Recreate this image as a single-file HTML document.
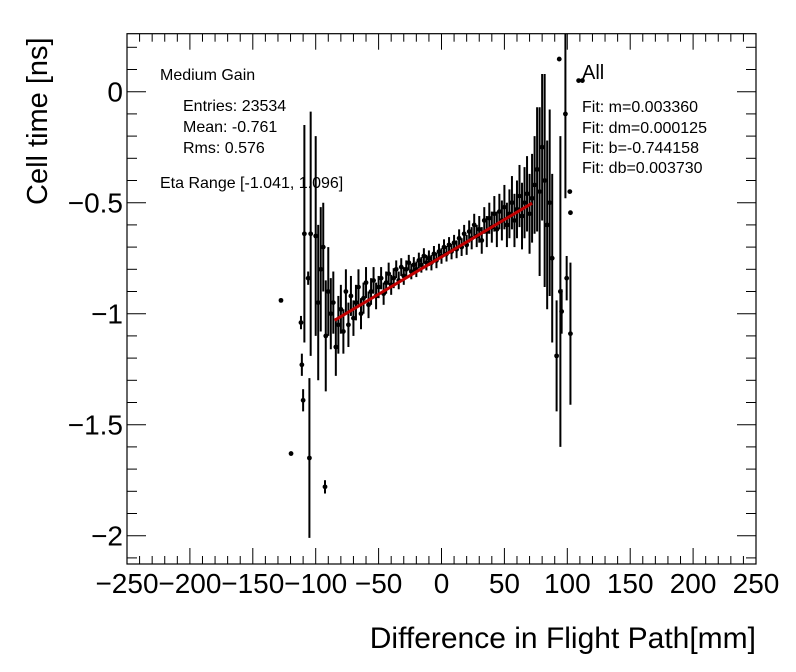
<!DOCTYPE html>
<html><head><meta charset="utf-8"><style>
body{margin:0;background:#fff}
svg{display:block;font-family:"Liberation Sans",sans-serif}
</style></head><body>
<svg id="chart" width="796" height="672" viewBox="0 0 796 672">
<defs><clipPath id="pc"><rect x="127" y="33.7" width="629" height="530.3"/></clipPath></defs>
<rect width="796" height="672" fill="#fff"/>
<g id="marks" clip-path="url(#pc)"></g>
<g id="axes"></g>
<text x="160" y="80" font-size="16">Medium Gain</text>
<text x="183" y="111" font-size="16">Entries: 23534</text>
<text x="183" y="132" font-size="16">Mean: -0.761</text>
<text x="183" y="153" font-size="16">Rms: 0.576</text>
<text x="160" y="188" font-size="16">Eta Range [-1.041, 1.096]</text>
<text x="582" y="79" font-size="20">All</text>
<text x="582" y="112" font-size="16">Fit: m=0.003360</text>
<text x="582" y="133" font-size="16">Fit: dm=0.000125</text>
<text x="582" y="153" font-size="16">Fit: b=-0.744158</text>
<text x="582" y="173" font-size="16">Fit: db=0.003730</text>
<text x="756" y="648" font-size="30" text-anchor="end">Difference in Flight Path[mm]</text>
<text transform="translate(47,205) rotate(-90)" font-size="29">Cell time [ns]</text>
</svg>
<script>
const xVals=[-100,-98,-96,-94,-92,-90,-88,-86,-84,-82,-80,-78,-76,-74,-72,-70,-68,-66,-64,-62,-60,-58,-56,-54,-52,-50,-48,-46,-44,-42,-40,-38,-36,-34,-32,-30,-28,-26,-24,-22,-20,-18,-16,-14,-12,-10,-8,-6,-4,-2,0,2,4,6,8,10,12,14,16,18,20,22,24,26,28,30,32,34,36,38,40,42,44,46,48,50,52,54,56,58,60,62,64,66,68,70,72,74,76,78,80,82,84,86,88];
const yVals=[-0.65,-0.95,-0.80,-0.70,-1.10,-0.90,-1.00,-0.95,-1.15,-1.05,-0.98,-1.08,-0.90,-1.05,-0.92,-1.02,-0.95,-0.88,-1.00,-0.93,-0.86,-0.96,-0.90,-0.85,-0.92,-0.88,-0.84,-0.91,-0.86,-0.82,-0.87,-0.84,-0.80,-0.85,-0.79,-0.83,-0.80,-0.77,-0.81,-0.78,-0.80,-0.76,-0.78,-0.74,-0.77,-0.75,-0.77,-0.73,-0.76,-0.72,-0.74,-0.70,-0.73,-0.69,-0.72,-0.68,-0.71,-0.66,-0.70,-0.64,-0.69,-0.63,-0.66,-0.60,-0.65,-0.62,-0.67,-0.58,-0.63,-0.57,-0.61,-0.55,-0.62,-0.54,-0.58,-0.52,-0.60,-0.55,-0.50,-0.58,-0.53,-0.47,-0.56,-0.50,-0.46,-0.55,-0.48,-0.42,-0.35,-0.45,-0.25,-0.40,-0.60,-0.50,-0.75];
const yErrs=[0.45,0.35,0.28,0.20,0.25,0.20,0.16,0.14,0.13,0.13,0.11,0.10,0.10,0.10,0.09,0.08,0.08,0.08,0.07,0.07,0.07,0.06,0.06,0.06,0.06,0.05,0.05,0.05,0.05,0.05,0.045,0.045,0.04,0.04,0.04,0.04,0.04,0.035,0.035,0.035,0.035,0.035,0.035,0.035,0.035,0.035,0.035,0.035,0.035,0.035,0.035,0.035,0.035,0.035,0.035,0.035,0.04,0.04,0.04,0.04,0.045,0.05,0.05,0.05,0.05,0.06,0.06,0.06,0.07,0.07,0.07,0.08,0.08,0.08,0.09,0.10,0.10,0.11,0.12,0.12,0.13,0.14,0.15,0.16,0.17,0.18,0.20,0.22,0.28,0.38,0.33,0.48,0.38,0.42,0.38];
const outX=[-127.6,-119.6,-111.7,-111,-110,-109,-105,-106,-104,-92.6,93.6,109,112,102,102.5,98.5,94.5,99.5,95.5,102.5,91.5];
const outY=[-0.94,-1.63,-1.04,-1.23,-1.39,-0.64,-1.65,-0.84,-0.64,-1.78,0.147,0.05,0.05,-0.45,-0.545,-0.10,-0.90,-0.84,-0.99,-1.09,-1.19];
const outE=[0,0,0.03,0.05,0.05,0.49,0.36,0.03,0.55,0.03,0,0,0,0,0,0.38,0.70,0.10,0.10,0.32,0.25];
const fitM=0.003360, fitB=-0.744158, fitX0=-85, fitX1=72;
const xTicks=[-250,-200,-150,-100,-50,0,50,100,150,200,250];
const yTicks=[0,-0.5,-1,-1.5,-2];
const yTickLabels=["0","\u22120.5","\u22121","\u22121.5","\u22122"];
const xTickLabels=["\u2212250","\u2212200","\u2212150","\u2212100","\u221250","0","50","100","150","200","250"];

const L=127,R=756,T=33.7,B=564;
const X=v=>441.5+v*(R-L)/500;
const Y=v=>91.7-v*222;
const NS="http://www.w3.org/2000/svg";
const marks=document.getElementById('marks'), axes=document.getElementById('axes');
function mk(tag,attrs,parent){const e=document.createElementNS(NS,tag);for(const k in attrs)e.setAttribute(k,attrs[k]);parent.appendChild(e);return e;}

function point(x,y,e,name){
  const g=mk('g',{},marks);
  
  
  if(e>0) mk('line',{x1:X(x),x2:X(x),y1:Y(y+e),y2:Y(y-e),stroke:'#000','stroke-width':2},g);
  mk('circle',{cx:X(x),cy:Y(y),r:2.4,fill:'#000'},g);
}
for(let i=0;i<xVals.length;i++) point(xVals[i],yVals[i],yErrs[i],'data-point');
for(let i=0;i<outX.length;i++) point(outX[i],outY[i],outE[i],'outlier-point');

const fit=mk('line',{x1:X(fitX0),y1:Y(fitM*fitX0+fitB),x2:X(fitX1),y2:Y(fitM*fitX1+fitB),stroke:'#c00000','stroke-width':3},marks);



const frame=mk('rect',{x:L,y:T,width:R-L,height:B-T,fill:'none',stroke:'#000','stroke-width':1.2},axes);


for(let v=-250;v<=250;v+=10){
  const major=(v%50===0), len=major?16:8;
  mk('line',{x1:X(v),x2:X(v),y1:B,y2:B-len,stroke:'#000','stroke-width':1},axes);
  mk('line',{x1:X(v),x2:X(v),y1:T,y2:T+len,stroke:'#000','stroke-width':1},axes);
}
for(let k=-21;k<=2;k++){
  const v=k/10, major=(k%5===0), len=major?19:10;
  const y=Y(v); if(y<T||y>B) continue;
  mk('line',{x1:L,x2:L+len,y1:y,y2:y,stroke:'#000','stroke-width':1},axes);
  mk('line',{x1:R,x2:R-len,y1:y,y2:y,stroke:'#000','stroke-width':1},axes);
}
xTicks.forEach((v,i)=>{
  const t=mk('text',{x:X(v),y:593,'font-size':28,'text-anchor':'middle'},axes);
  t.textContent=xTickLabels[i];
  
  
});
yTicks.forEach((v,i)=>{
  const t=mk('text',{x:123,y:Y(v)+10,'font-size':28,'text-anchor':'end'},axes);
  t.textContent=yTickLabels[i];
  
  
});
</script>
</body></html>
